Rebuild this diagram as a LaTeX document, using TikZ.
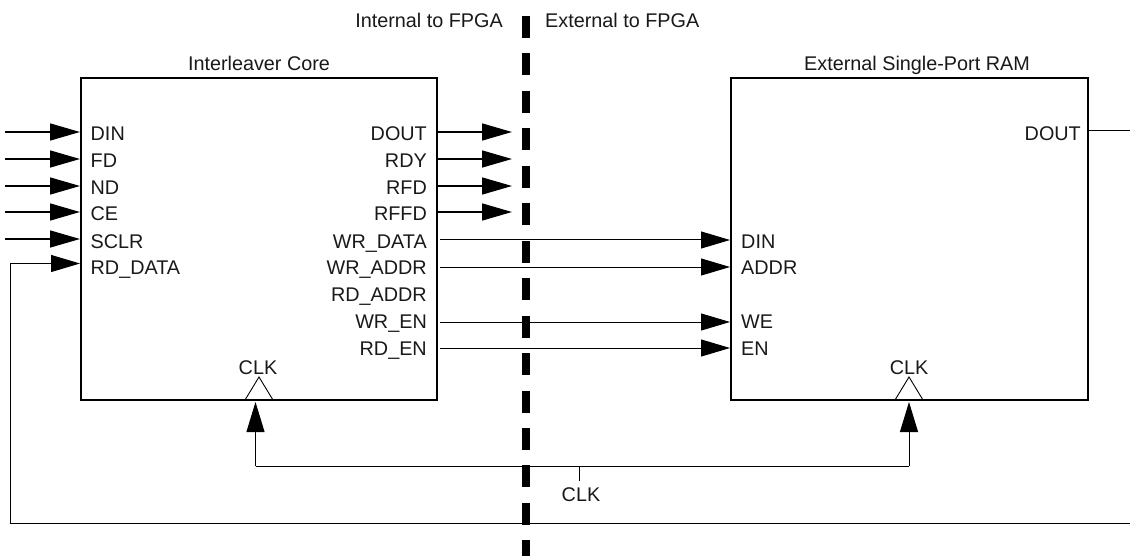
\documentclass[tikz,border=0pt]{standalone}
\usepackage{fontspec}
\setmainfont{Liberation Sans}
\usetikzlibrary{arrows.meta}
\tikzset{
  x=1pt,y=-1pt,
  lbl/.style={inner sep=0pt,font=\fontsize{19.8}{24}\selectfont,text=black!90},
  pinl/.style={lbl,anchor=base west},
  pinr/.style={lbl,anchor=base east},
  midl/.style={lbl,anchor=base},
  corebox/.style={line width=1.7pt,draw=black,fill=none,line join=miter},
  big/.style={-{Triangle[length=30pt,width=17pt]},line width=1.5pt},
  thin/.style={-{Triangle[length=29pt,width=17pt]},line width=1pt},
  clkarrow/.style={-{Triangle[length=30pt,width=18pt]},line width=1pt},
  plain/.style={line width=1pt}
}
\begin{document}
\begin{tikzpicture}
\useasboundingbox (0,0) rectangle (1130,556);
% boundary dashes
\foreach \i in {0,...,14}{
  \pgfmathsetmacro{\yy}{16+37.45*\i}
  \pgfmathsetmacro{\ye}{min(\yy+22,556)}
  \fill[black] (522,\yy) rectangle (530,\ye);
}
% boxes
\draw[corebox] (81,78) rectangle (437,400);
\draw[corebox] (731,78) rectangle (1088,400);
\draw[line width=0.9pt] (245,400) -- (259,377) -- (273,400);
\draw[line width=0.9pt] (895,400) -- (909,377) -- (923,400);
% texts
\node[midl] (t1) at (259,71) {Interleaver Core};
\node[midl] (t2) at (917,71) {External Single-Port RAM};
\node[lbl,anchor=base east] (t3) at (503,28) {Internal to FPGA};
\node[lbl,anchor=base west] (t4) at (545,28) {External to FPGA};
\node[midl] (clkA) at (258,374) {CLK};
\node[midl] (clkB) at (909,374) {CLK};
\node[midl] (clkC) at (581,501) {CLK};
% input pins
\foreach \n/\t/\y in {din/DIN/141,fd/FD/168,nd/ND/195,ce/CE/221,sclr/SCLR/248,rdd/RD\_DATA/275}{
  \node[pinl] (\n) at (90.5,\y) {\t};
}
% output pins
\foreach \n/\t/\y in {dout/DOUT/141,rdy/RDY/168,rfd/RFD/195,rffd/RFFD/221,wrd/WR\_DATA/248,wra/WR\_ADDR/275,rda/RD\_ADDR/301,wre/WR\_EN/328,rde/RD\_EN/355}{
  \node[pinr] (\n) at (427,\y) {\t};
}
% RAM pins
\foreach \n/\t/\y in {rdin/DIN/248,raddr/ADDR/275,rwe/WE/328,ren/EN/355}{
  \node[pinl] (\n) at (741,\y) {\t};
}
\node[pinr] (rdout) at (1081,141) {DOUT};
% coordinates for free ends
\foreach \n/\y in {din/132,fd/159,nd/186,ce/212,sclr/239}{
  \coordinate (s\n) at (5,\y);
  \coordinate (e\n) at (80,\y);
  \draw[big] (s\n) -- (e\n);
}
\foreach \n/\y in {dout/132,rdy/159,rfd/186,rffd/212}{
  \coordinate (s\n) at (438,\y);
  \coordinate (e\n) at (512,\y);
  \draw[big] (s\n) -- (e\n);
}
\foreach \n/\y in {wrd/240,wra/267,wre/322,rde/348}{
  \coordinate (s\n) at (440,\y);
  \coordinate (e\n) at (730,\y);
  \draw[thin] (s\n) -- (e\n);
}
% RAM DOUT
\coordinate (o1) at (1088,131);
\coordinate (o2) at (1130,131);
\draw[plain] (o1) -- (o2);
% read data loop
\coordinate (r1) at (1130,523);
\coordinate (r2) at (10.5,523);
\coordinate (r3) at (10.5,263.5);
\coordinate (r4) at (80,263.5);
\draw[thin] (r1) -- (r2) -- (r3) -- (r4);
% clock
\coordinate (k1) at (255.5,466);
\coordinate (k2) at (909,466);
\coordinate (k3) at (579,466);
\coordinate (k4) at (579,481);
\draw[clkarrow] (k1) -- (255.5,402);
\draw[clkarrow] (k2) -- (909,402);
\draw[plain] (k1) -- (k2);
\draw[plain] (k3) -- (k4);
\end{tikzpicture}
\end{document}
